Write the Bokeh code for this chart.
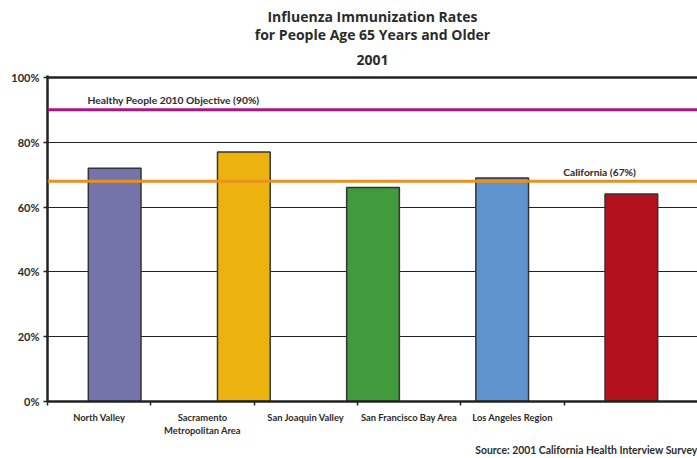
from bokeh.plotting import figure
from bokeh.models import (ColumnDataSource, Range1d, FixedTicker, Span, Label, Title, LinearAxis)
from bokeh.embed import file_html
from bokeh.resources import INLINE

# ---- data ----
regions = ["North Valley", "Sacramento\nMetropolitan Area", "San Joaquin Valley",
           "San Francisco Bay Area", "Los Angeles Region"]
rates = [72, 77, 66, 69, 64]
bar_colors = ["#7574AA", "#ECB30F", "#419A3C", "#5F93CD", "#B3111E"]
objective_value = 90
objective_label = "Healthy People 2010 Objective (90%)"
california_value = 68
california_label = "California (67%)"
y_ticks = [0, 20, 40, 60, 80, 100]
y_tick_labels = ["0%", "20%", "40%", "60%", "80%", "100%"]
title_lines = ["Influenza Immunization Rates", "for People Age 65 Years and Older", "2001"]
source_note = "Source: 2001 California Health Interview Survey"

# ---- layout constants ----
FONT = "Lato"
TITLE_FONT = "Open Sans"
INK = "#2b2b2b"
BAR_STEP = 1.25      # bar spacing in label-slot units
BAR_OFFSET = 0.52
BAR_WIDTH = 0.51
X_END = 6.29
label_pos = [i + 0.5 for i in range(len(regions))]
slot_edges = list(range(len(regions) + 1))
bar_pos = [(i + BAR_OFFSET) * BAR_STEP for i in range(len(regions))]

src = ColumnDataSource(dict(x=bar_pos, top=rates, color=bar_colors))

p = figure(width=697, height=458, output_backend="svg", toolbar_location=None,
           x_range=Range1d(0, X_END), y_range=Range1d(0, 100.6),
           min_border_left=47, min_border_right=0, min_border_top=75,
           min_border_bottom=57, outline_line_color=None, x_axis_location=None)
p.title = None

# title: three centred lines, stacked from the plot outward
for line, standoff in zip(reversed(title_lines), [21.5, -5.5, -1.5]):
    p.add_layout(Title(text=line, align="center", text_font=TITLE_FONT,
                       text_font_size="14px", text_font_style="bold", text_color=INK,
                       standoff=standoff), "above")

# grid
p.xgrid.visible = False
p.ygrid.ticker = FixedTicker(ticks=y_ticks[1:-1])
p.ygrid.grid_line_color = "#222222"
p.ygrid.grid_line_width = 1.2

# bars
p.vbar(x="x", top="top", width=BAR_WIDTH, bottom=0, fill_color="color",
       line_color="#333333", line_width=1.5, source=src)

# top line at 100%
p.add_layout(Span(location=y_ticks[-1], dimension="width", line_color="#222222",
                  line_width=2.5))

# reference lines
p.add_layout(Span(location=objective_value, dimension="width", line_color="#AE157F",
                  line_width=3))
p.add_layout(Span(location=california_value, dimension="width", line_color="#E8911E",
                  line_width=3))
p.add_layout(Label(x=0.387, y=objective_value, y_offset=4, text=objective_label,
                   text_font=FONT, text_font_size="10.3px", text_font_style="bold",
                   text_color=INK, text_baseline="bottom"))
p.add_layout(Label(x=4.99, y=california_value, y_offset=3, text=california_label,
                   text_font=FONT, text_font_size="10.3px", text_font_style="bold",
                   text_color=INK, text_baseline="bottom"))

# y axis
p.yaxis.ticker = FixedTicker(ticks=y_ticks)
p.yaxis.major_label_overrides = {t: l for t, l in zip(y_ticks, y_tick_labels)}
p.yaxis.axis_line_width = 2.5
p.yaxis.axis_line_color = "#222222"
p.yaxis.major_tick_line_color = "#222222"
p.yaxis.major_tick_line_width = 1.5
p.yaxis.major_tick_out = 4
p.yaxis.major_tick_in = 0
p.yaxis.minor_tick_line_color = None
p.yaxis.major_label_standoff = 4
p.yaxis.major_label_text_font = FONT
p.yaxis.major_label_text_font_size = "11px"
p.yaxis.major_label_text_font_style = "bold"
p.yaxis.major_label_text_color = INK

# x axis: tick marks at slot edges (no labels)
ax_ticks = LinearAxis(ticker=FixedTicker(ticks=slot_edges),
                      major_label_overrides={e: "" for e in slot_edges},
                      axis_line_width=2.5, axis_line_color="#222222",
                      major_tick_line_color="#222222", major_tick_line_width=1.5,
                      major_tick_out=4, major_tick_in=0, minor_tick_line_color=None,
                      major_label_standoff=0, major_label_text_font_size="1px")
p.add_layout(ax_ticks, "below")

# x axis: category names centred in slots
ax_labels = LinearAxis(ticker=FixedTicker(ticks=label_pos),
                       major_label_overrides={pos: r for pos, r in zip(label_pos, regions)},
                       axis_line_color=None, major_tick_line_color=None,
                       minor_tick_line_color=None, major_tick_out=0, major_tick_in=0,
                       major_label_standoff=6, major_label_text_font=FONT,
                       major_label_text_font_size="9.4px", major_label_text_font_style="bold",
                       major_label_text_color=INK)
p.add_layout(ax_labels, "below")

# source note
p.add_layout(Title(text=source_note, align="right", text_font=FONT,
                   text_font_size="10.4px", text_font_style="bold", text_color=INK,
                   standoff=6), "below")

open("out.html", "w").write(file_html(p, INLINE))
